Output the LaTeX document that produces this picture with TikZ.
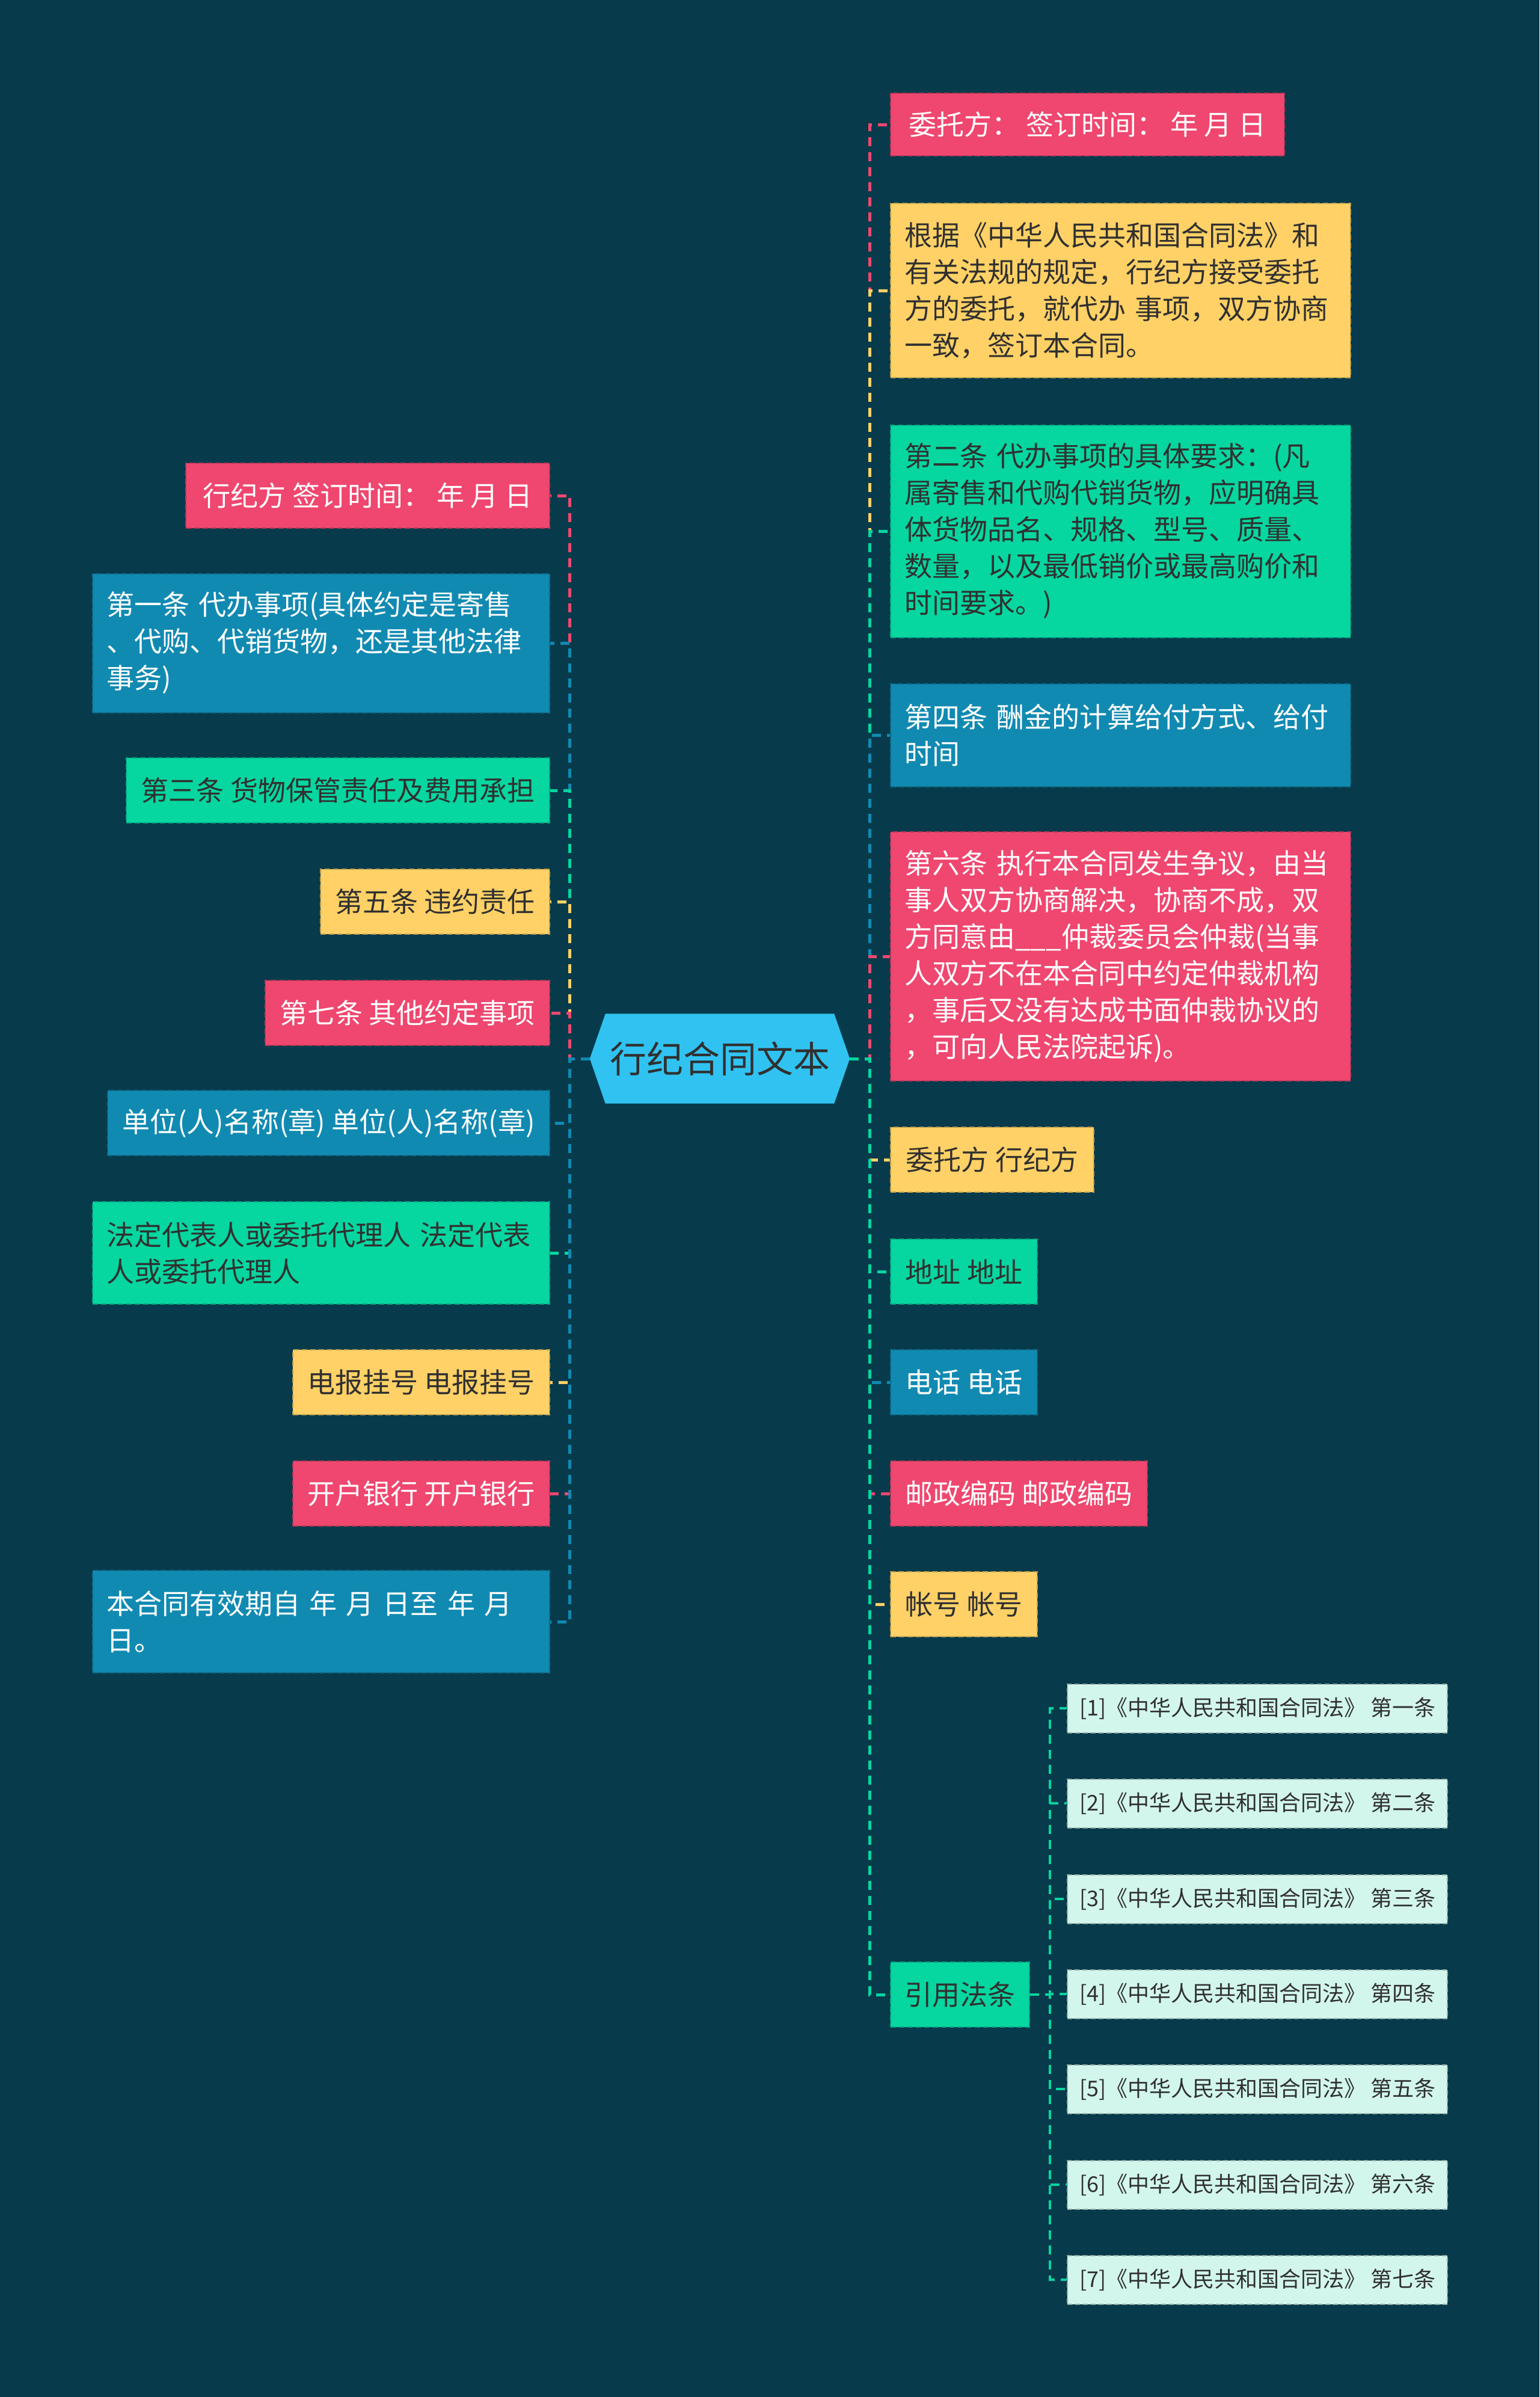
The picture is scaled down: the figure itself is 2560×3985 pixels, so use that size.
\documentclass[tikz,border=0pt]{standalone}
\usepackage{fontspec}
\setmainfont{Noto Sans CJK SC}
\usetikzlibrary{backgrounds}
\definecolor{bg}{HTML}{073B4C}
\definecolor{cpink}{HTML}{EF476F}
\definecolor{cyellow}{HTML}{FFD166}
\definecolor{cgreen}{HTML}{06D6A0}
\definecolor{cblue}{HTML}{118AB2}
\definecolor{croot}{HTML}{30C3F2}
\definecolor{cleaf}{HTML}{D2F6EC}
\definecolor{dtext}{HTML}{303030}
\tikzset{
  base/.style={rectangle, inner xsep=23pt, inner ysep=0pt,
    font=\fontsize{46pt}{61pt}\selectfont,
    dash pattern=on 9pt off 5pt, line width=2pt},
  multi/.style={align=left, text width=#1},
  single/.style={minimum width=#1, minimum height=108pt},
  pinkbox/.style={base, fill=cpink, draw=cpink!78!black, text=white},
  yellowbox/.style={base, fill=cyellow, draw=cyellow!75!black, text=dtext},
  greenbox/.style={base, fill=cgreen, draw=cgreen!78!black, text=dtext},
  bluebox/.style={base, fill=cblue, draw=cblue!78!black, text=white},
  leafbox/.style={rectangle, inner xsep=20pt, inner ysep=0pt,
    font=\fontsize{36pt}{44pt}\selectfont, fill=cleaf, draw=cleaf!70!black,
    dash pattern=on 8pt off 5pt, line width=2pt, text=dtext,
    minimum width=631pt, minimum height=81pt, anchor=west},
  conn/.style={line width=5pt, dash pattern=on 15pt off 10pt},
  leafconn/.style={line width=4pt, dash pattern=on 15pt off 10pt, draw=cgreen},
}
\begin{document}
\begin{tikzpicture}[x=1pt, y=-1pt]
\begin{scope}[on background layer]
  \fill[bg] (0,0) rectangle (2560,3985);
\end{scope}
\useasboundingbox (0,0) rectangle (2560,3985);

% root
\node[font=\fontsize{61pt}{61pt}\selectfont, text=dtext, minimum width=432pt,
      minimum height=149pt, inner sep=0pt] (root) at (1197,1760) {行纪合同文本};
\begin{scope}[on background layer]
  \fill[croot] ([xshift=26pt]root.north west) -- ([xshift=-26pt]root.north east)
    -- (root.east) -- ([xshift=-26pt]root.south east)
    -- ([xshift=26pt]root.south west) -- (root.west) -- cycle;
\end{scope}

% right side
\node[pinkbox, single=655pt, minimum height=104pt, anchor=west] (r1) at (1480,207) {委托方： 签订时间： 年 月 日};
\node[yellowbox, multi=719pt, minimum height=290pt, anchor=west] (r2) at (1480,483)
  {根据《中华人民共和国合同法》和\\有关法规的规定，行纪方接受委托\\方的委托，就代办 事项，双方协商\\一致，签订本合同。};
\node[greenbox, multi=719pt, minimum height=353pt, anchor=west] (r3) at (1480,883)
  {第二条 代办事项的具体要求：(凡\\属寄售和代购代销货物，应明确具\\体货物品名、规格、型号、质量、\\数量，以及最低销价或最高购价和\\时间要求。)};
\node[bluebox, multi=719pt, minimum height=171pt, anchor=west] (r4) at (1480,1222)
  {第四条 酬金的计算给付方式、给付\\时间};
\node[pinkbox, multi=719pt, minimum height=414pt, anchor=west] (r5) at (1480,1590)
  {第六条 执行本合同发生争议，由当\\事人双方协商解决，协商不成，双\\方同意由\_\_\_仲裁委员会仲裁(当事\\人双方不在本合同中约定仲裁机构\\，事后又没有达成书面仲裁协议的\\，可向人民法院起诉)。};
\node[yellowbox, single=338pt, anchor=west] (r6) at (1480,1928) {委托方 行纪方};
\node[greenbox, single=244pt, anchor=west] (r7) at (1480,2114) {地址 地址};
\node[bluebox, single=244pt, anchor=west] (r8) at (1480,2298) {电话 电话};
\node[pinkbox, single=427pt, anchor=west] (r9) at (1480,2483) {邮政编码 邮政编码};
\node[yellowbox, single=244pt, anchor=west] (r10) at (1480,2667) {帐号 帐号};
\node[greenbox, single=231pt, anchor=west] (cite) at (1480,3316) {引用法条};

% leaves
\node[leafbox] (c1) at (1774,2840) {[1]《中华人民共和国合同法》 第一条};
\node[leafbox] (c2) at (1774,2998) {[2]《中华人民共和国合同法》 第二条};
\node[leafbox] (c3) at (1774,3157) {[3]《中华人民共和国合同法》 第三条};
\node[leafbox] (c4) at (1774,3315) {[4]《中华人民共和国合同法》 第四条};
\node[leafbox] (c5) at (1774,3473) {[5]《中华人民共和国合同法》 第五条};
\node[leafbox] (c6) at (1774,3632) {[6]《中华人民共和国合同法》 第六条};
\node[leafbox] (c7) at (1774,3790) {[7]《中华人民共和国合同法》 第七条};

% left side
\node[pinkbox, single=605pt, anchor=east] (l1) at (915,824) {行纪方 签订时间： 年 月 日};
\node[bluebox, multi=714pt, minimum height=231pt, anchor=east] (l2) at (915,1069)
  {第一条 代办事项(具体约定是寄售\\、代购、代销货物，还是其他法律\\事务)};
\node[greenbox, single=704pt, anchor=east] (l3) at (915,1314) {第三条 货物保管责任及费用承担};
\node[yellowbox, single=381pt, anchor=east] (l4) at (915,1499) {第五条 违约责任};
\node[pinkbox, single=473pt, anchor=east] (l5) at (915,1684) {第七条 其他约定事项};
\node[bluebox, single=735pt, anchor=east] (l6) at (915,1867) {单位(人)名称(章) 单位(人)名称(章)};
\node[greenbox, multi=714pt, minimum height=170pt, anchor=east] (l7) at (915,2083)
  {法定代表人或委托代理人 法定代表\\人或委托代理人};
\node[yellowbox, single=427pt, anchor=east] (l8) at (915,2298) {电报挂号 电报挂号};
\node[pinkbox, single=427pt, anchor=east] (l9) at (915,2483) {开户银行 开户银行};
\node[bluebox, multi=714pt, minimum height=170pt, anchor=east] (l10) at (915,2696)
  {本合同有效期自 年 月 日至 年 月\\日。};

% connectors right
\draw[conn, cpink]   (root.east) -- ++(33,0) |- (r1.west);
\draw[conn, cyellow] (root.east) -- ++(33,0) |- (r2.west);
\draw[conn, cgreen]  (root.east) -- ++(33,0) |- (r3.west);
\draw[conn, cblue]   (root.east) -- ++(33,0) |- (r4.west);
\draw[conn, cpink]   (root.east) -- ++(33,0) |- (r5.west);
\draw[conn, cyellow] (root.east) -- ++(33,0) |- (r6.west);
\draw[conn, cgreen]  (root.east) -- ++(33,0) |- (r7.west);
\draw[conn, cblue]   (root.east) -- ++(33,0) |- (r8.west);
\draw[conn, cpink]   (root.east) -- ++(33,0) |- (r9.west);
\draw[conn, cyellow] (root.east) -- ++(33,0) |- (r10.west);
\draw[conn, cgreen]  (root.east) -- ++(33,0) |- (cite.west);

% connectors left
\draw[conn, cpink]   (root.west) -- ++(-33,0) |- (l1.east);
\draw[conn, cblue]   (root.west) -- ++(-33,0) |- (l2.east);
\draw[conn, cgreen]  (root.west) -- ++(-33,0) |- (l3.east);
\draw[conn, cyellow] (root.west) -- ++(-33,0) |- (l4.east);
\draw[conn, cpink]   (root.west) -- ++(-33,0) |- (l5.east);
\draw[conn, cblue]   (root.west) -- ++(-33,0) |- (l6.east);
\draw[conn, cgreen]  (root.west) -- ++(-33,0) |- (l7.east);
\draw[conn, cyellow] (root.west) -- ++(-33,0) |- (l8.east);
\draw[conn, cpink]   (root.west) -- ++(-33,0) |- (l9.east);
\draw[conn, cblue]   (root.west) -- ++(-33,0) |- (l10.east);

% connectors to leaves
\foreach \c in {c1,c2,c3,c4,c5,c6,c7}
  \draw[leafconn] (cite.east) -- ++(33,0) |- (\c.west);
\end{tikzpicture}
\end{document}
